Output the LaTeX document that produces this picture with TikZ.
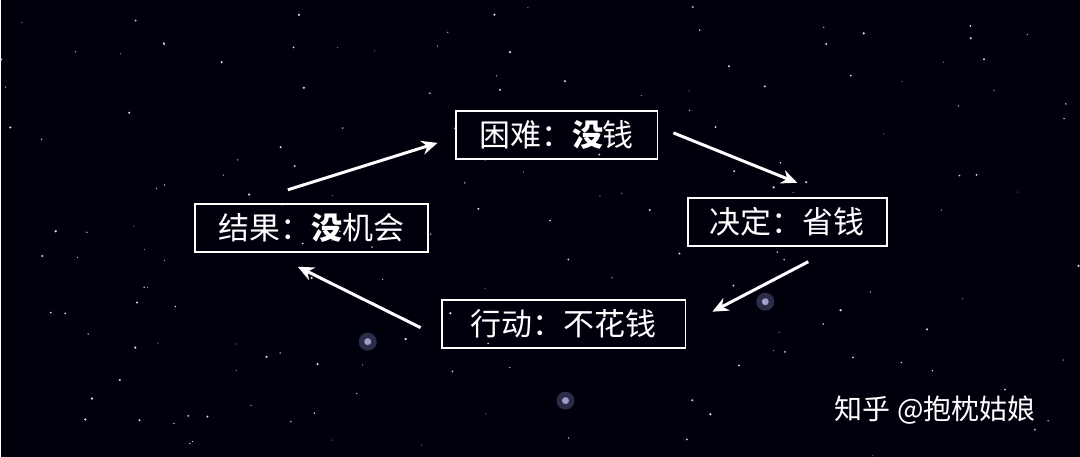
\documentclass[tikz,border=0pt]{standalone}
\usepackage{fontspec}
\newfontfamily\cjk{Noto Sans CJK SC}
\usetikzlibrary{arrows.meta}
\begin{document}
\begin{tikzpicture}[x=1pt,y=-1pt,
  box/.style={draw=white,line width=1.8pt,text=white,font=\cjk\fontsize{31}{34}\selectfont,inner sep=0pt,minimum height=48pt},
  arr/.style={draw=white,line width=3pt,-{Stealth[length=16pt,width=14pt]}}]
\fill[black!95!blue] (0,0) rectangle (1080,457);
\pgfmathsetseed{7}
\foreach \i in {1,...,160}{
  \pgfmathsetmacro{\sx}{rnd*1080}
  \pgfmathsetmacro{\sy}{rnd*457}
  \pgfmathsetmacro{\sr}{0.4+rnd*0.9}
  \fill[white!70!gray] (\sx,\sy) circle (\sr pt);
}
\foreach \p in {(367,342),(565,401),(765,302)}{
  \fill[blue!30!white,opacity=0.25] \p circle (9pt);
  \fill[blue!20!white,opacity=0.7] \p circle (3.5pt);
}
\node[box,minimum width=202pt] (kn) at (556,135) {困难：\textbf{没}钱};
\node[box,minimum width=199pt] (jd) at (787,222) {决定：省钱};
\node[box,minimum width=233pt] (jg) at (311,228) {结果：\textbf{没}机会};
\node[box,minimum width=244pt] (xd) at (563,324) {行动：不花钱};
\coordinate (a1) at (287,190); \coordinate (b1) at (437,143);
\coordinate (a2) at (673,133); \coordinate (b2) at (797,183);
\coordinate (a3) at (808,262); \coordinate (b3) at (712,312);
\coordinate (a4) at (420,328); \coordinate (b4) at (297,267);
\draw[arr] (a1) -- (b1);
\draw[arr] (a2) -- (b2);
\draw[arr] (a3) -- (b3);
\draw[arr] (a4) -- (b4);
\node[text=white,font=\cjk\fontsize{28}{32}\selectfont] (wm) at (935,410) {知乎 @抱枕姑娘};
\end{tikzpicture}
\end{document}
